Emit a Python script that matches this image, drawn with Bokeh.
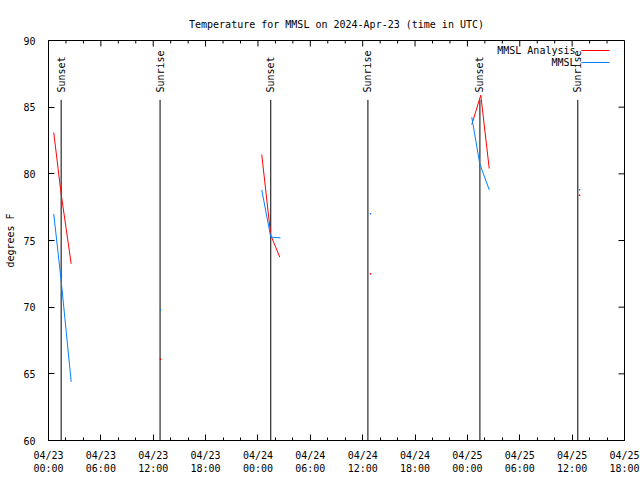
import numpy as np
import pandas as pd
from bokeh.plotting import figure
from bokeh.models import Range1d, FixedTicker
from bokeh.embed import file_html
from bokeh.resources import INLINE
from bokeh.core.properties import value

TITLE = "Temperature for MMSL on 2024-Apr-23 (time in UTC)"
Y_LABEL = "degrees F"
SERIES_NAMES = ["MMSL Analysis", "MMSL"]
SERIES_COLORS = ["#ff0000", "#0080ff"]

# runs of consecutive observations (time UTC, degrees F)
analysis_segments_t = [
    ["2024-04-23 00:36", "2024-04-23 01:27", "2024-04-23 02:36"],
    ["2024-04-24 00:26", "2024-04-24 01:28", "2024-04-24 02:30"],
    ["2024-04-25 00:30", "2024-04-25 01:32", "2024-04-25 02:30"],
]
analysis_segments_v = [
    [83.1, 78.5, 73.25],
    [81.45, 75.4, 73.75],
    [83.7, 85.9, 80.4],
]
obs_segments_t = [
    ["2024-04-23 00:36", "2024-04-23 01:27", "2024-04-23 02:36"],
    ["2024-04-24 00:26", "2024-04-24 01:28", "2024-04-24 02:35"],
    ["2024-04-25 00:30", "2024-04-25 01:25", "2024-04-25 02:30"],
]
obs_segments_v = [
    [77.0, 72.0, 64.4],
    [78.8, 75.25, 75.2],
    [84.25, 80.75, 78.8],
]

# isolated single observations
single_t = ["2024-04-23 12:50", "2024-04-24 12:54", "2024-04-25 12:51"]
analysis_single_v = [66.1, 72.5, 78.4]
obs_single_v = [69.8, 77.0, 78.8]

# sunrise / sunset markers
event_times = ["2024-04-23 01:27", "2024-04-23 12:47", "2024-04-24 01:28",
               "2024-04-24 12:36", "2024-04-25 01:26", "2024-04-25 12:39"]
event_labels = ["Sunset", "Sunrise", "Sunset", "Sunrise", "Sunset", "Sunrise"]

x_tick_times = ["2024-04-23 00:00", "2024-04-23 06:00", "2024-04-23 12:00", "2024-04-23 18:00",
                "2024-04-24 00:00", "2024-04-24 06:00", "2024-04-24 12:00", "2024-04-24 18:00",
                "2024-04-25 00:00", "2024-04-25 06:00", "2024-04-25 12:00", "2024-04-25 18:00"]
x_tick_labels = ["04/23\n00:00", "04/23\n06:00", "04/23\n12:00", "04/23\n18:00",
                 "04/24\n00:00", "04/24\n06:00", "04/24\n12:00", "04/24\n18:00",
                 "04/25\n00:00", "04/25\n06:00", "04/25\n12:00", "04/25\n18:00"]
y_ticks = [60, 65, 70, 75, 80, 85, 90]


def ms(ts):
    return (pd.to_datetime(ts).astype("int64") // 10**6).astype(float).tolist()


FONT = "DejaVu Sans Mono"
FS = "10px"

FRAME_W, FRAME_H = 576, 400
x0 = ms([x_tick_times[0]])[0]
x1 = ms([x_tick_times[-1]])[0]
y0, y1 = y_ticks[0], y_ticks[-1]
PX_X = (x1 - x0) / FRAME_W
PX_Y = (y1 - y0) / FRAME_H

p = figure(width=640, height=480, x_axis_type="datetime",
           x_range=Range1d(x0, x1), y_range=Range1d(y0, y1),
           output_backend="svg", toolbar_location=None,
           min_border_left=48, min_border_right=16, min_border_top=40, min_border_bottom=40,
           title=TITLE)
p.title.text_font = FONT
p.title.text_font_size = FS
p.title.text_font_style = "normal"
p.title.text_color = "black"
p.title.align = "center"
p.title.standoff = 22
p.grid.visible = False
p.outline_line_color = "black"
p.outline_line_width = 1
p.background_fill_color = "white"
p.border_fill_color = "white"

tick_ms = ms(x_tick_times)
minor_ms = ms(pd.date_range(x_tick_times[0], x_tick_times[-1], freq="2h"))
xticker = FixedTicker(ticks=tick_ms, minor_ticks=minor_ms)
yticker = FixedTicker(ticks=y_ticks, minor_ticks=[])


def style_axis(ax):
    ax.axis_line_color = "black"
    ax.major_tick_in = 6
    ax.major_tick_out = 0
    ax.minor_tick_in = 3
    ax.minor_tick_out = 0
    ax.major_tick_line_color = "black"
    ax.minor_tick_line_color = "black"
    ax.major_label_text_font = FONT
    ax.major_label_text_color = "black"
    ax.major_label_text_font_size = FS


xa = p.xaxis[0]
xa.ticker = xticker
xa.major_label_overrides = {t: lab for t, lab in zip(tick_ms, x_tick_labels)}
style_axis(xa)
xa.major_label_standoff = 9

ya = p.yaxis[0]
ya.ticker = yticker
style_axis(ya)
ya.major_label_standoff = 13
ya.axis_label = Y_LABEL
ya.axis_label_text_font = FONT
ya.axis_label_text_font_size = FS
ya.axis_label_text_font_style = "normal"
ya.axis_label_text_color = "black"
ya.axis_label_standoff = 4

# mirrored ticks on the top and right borders
minor_only = [m for m in minor_ms if m not in tick_ms]
p.segment(x0=tick_ms, y0=[y1] * len(tick_ms), x1=tick_ms, y1=[y1 - 6 * PX_Y] * len(tick_ms),
          line_color="black", line_width=1)
p.segment(x0=minor_only, y0=[y1] * len(minor_only), x1=minor_only,
          y1=[y1 - 3 * PX_Y] * len(minor_only), line_color="black", line_width=1)
p.segment(x0=[x1] * len(y_ticks), y0=y_ticks, x1=[x1 - 6 * PX_X] * len(y_ticks), y1=y_ticks,
          line_color="black", line_width=1)

# sunrise/sunset lines with labels
ev_ms = ms(event_times)
LINE_TOP = 85.55
LABEL_Y = 86.1
p.segment(x0=ev_ms, y0=[LINE_TOP] * len(ev_ms), x1=ev_ms, y1=[y0] * len(ev_ms),
          line_color="black", line_width=1)
p.text(x=ev_ms, y=[LABEL_Y] * len(ev_ms), text=event_labels, angle=np.pi / 2,
       text_align="left", text_baseline="middle", text_font=value(FONT),
       text_font_size=FS, text_color="black")

# series
p.multi_line(xs=[ms(t) for t in analysis_segments_t], ys=analysis_segments_v,
             line_color=SERIES_COLORS[0], line_width=1)
p.multi_line(xs=[ms(t) for t in obs_segments_t], ys=obs_segments_v,
             line_color=SERIES_COLORS[1], line_width=1)
p.scatter(x=ms(single_t), y=analysis_single_v, marker="square", size=1.5,
          fill_color=SERIES_COLORS[0], line_color=None)
p.scatter(x=ms(single_t), y=obs_single_v, marker="square", size=1.5,
          fill_color=SERIES_COLORS[1], line_color=None)

# key (top right, gnuplot style: text then line sample)
key_y = [y1 - 10 * PX_Y, y1 - 22 * PX_Y]
text_x = x1 - 49 * PX_X
p.text(x=[text_x] * 2, y=key_y, text=SERIES_NAMES, text_align="right", text_baseline="middle",
       text_font=value(FONT), text_font_size=FS, text_color="black")
p.segment(x0=[x1 - 43 * PX_X] * 2, y0=key_y, x1=[x1 - 15 * PX_X] * 2, y1=key_y,
          line_color=SERIES_COLORS, line_width=1)

open("out.html", "w").write(file_html(p, INLINE))
